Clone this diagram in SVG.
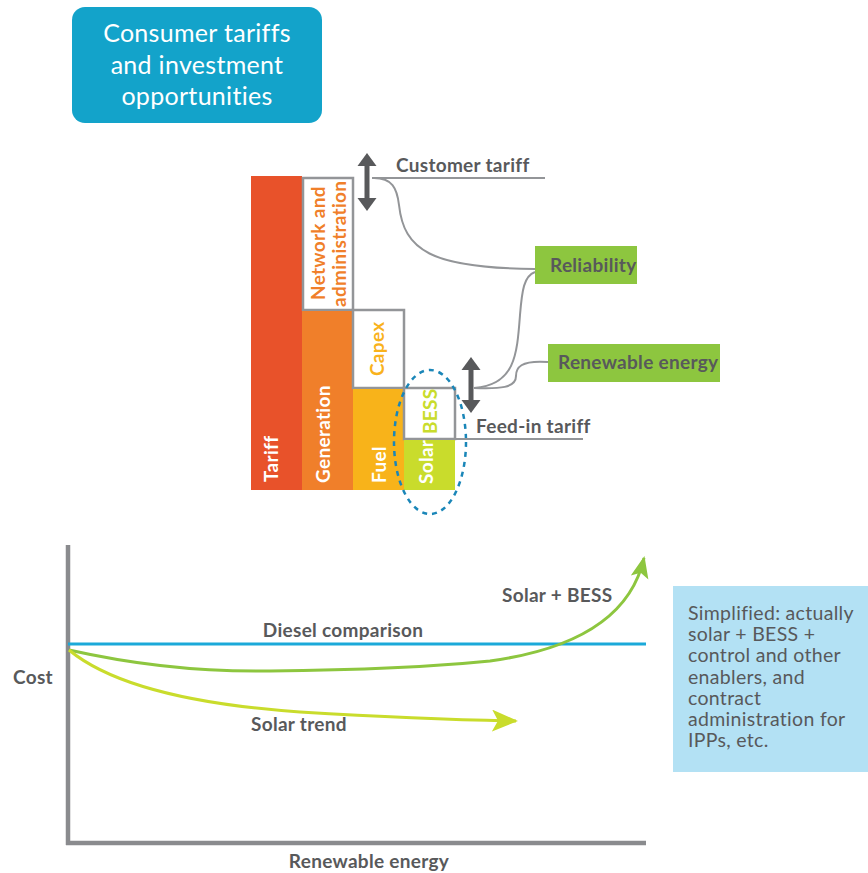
<svg xmlns="http://www.w3.org/2000/svg" width="868" height="873" viewBox="0 0 868 873">
  <style>
    text { font-family: "Lato", "Open Sans", "Liberation Sans", sans-serif; letter-spacing: 0.3px; }
    .lbl { font-size: 19px; font-weight: bold; fill: #58595b; }
    .bar { font-size: 19px; font-weight: bold; }
    .note { font-size: 19.5px; fill: #58595b; }
    .box { fill: #ffffff; stroke: #939598; stroke-width: 2.5; }
    .conn { fill: none; stroke: #939598; stroke-width: 2; }
    .dbl { fill: #58595b; }
  </style>
  <defs>
    <marker id="headGreen" markerUnits="userSpaceOnUse" markerWidth="22" markerHeight="20" viewBox="0 0 22 20" refX="20" refY="10" orient="auto">
      <path d="M0,1 L22,10 L0,19 L5,10 Z" fill="#8dc63f"/>
    </marker>
    <marker id="headLime" markerUnits="userSpaceOnUse" markerWidth="26" markerHeight="22" viewBox="0 0 26 22" refX="24" refY="11" orient="auto">
      <path d="M0,0 L26,11 L0,22 L6,11 Z" fill="#c9dc2c"/>
    </marker>
  </defs>

  <!-- title -->
  <g id="title">
    <rect x="72" y="7" width="250" height="116" rx="13" fill="#13a3ca"/>
    <text x="197" y="42" text-anchor="middle" font-size="25" fill="#ffffff">Consumer tariffs</text>
    <text x="197" y="74" text-anchor="middle" font-size="25" fill="#ffffff">and investment</text>
    <text x="197" y="105" text-anchor="middle" font-size="25" fill="#ffffff">opportunities</text>
  </g>

  <!-- tariff stack -->
  <g id="tariff">
    <rect x="251" y="176" width="51" height="314" fill="#e8522a"/>
    <text class="bar" fill="#ffffff" transform="translate(278,482) rotate(-90)">Tariff</text>
  </g>
  <g id="network">
    <rect class="box" x="303" y="178" width="50" height="132"/>
    <text class="bar" fill="#f07f2a" transform="translate(325,300) rotate(-90)">Network and</text>
    <text class="bar" fill="#f07f2a" transform="translate(346,307) rotate(-90)">administration</text>
  </g>
  <g id="generation">
    <rect x="302" y="311" width="51" height="179" fill="#f07f2a"/>
    <text class="bar" fill="#ffffff" transform="translate(330,483) rotate(-90)">Generation</text>
  </g>
  <g id="capex">
    <rect class="box" x="353" y="310" width="51" height="78"/>
    <text class="bar" fill="#f9b21c" transform="translate(384,376) rotate(-90)">Capex</text>
  </g>
  <g id="fuel">
    <rect x="353" y="389" width="51" height="101" fill="#f8b31a"/>
    <text class="bar" fill="#ffffff" transform="translate(386,483) rotate(-90)">Fuel</text>
  </g>
  <g id="bess">
    <rect class="box" x="404" y="388" width="51" height="51"/>
    <text class="bar" fill="#c9dc2c" transform="translate(437,434) rotate(-90)">BESS</text>
  </g>
  <g id="solar">
    <rect x="404" y="440" width="51" height="50" fill="#c9dc2c"/>
    <text class="bar" fill="#ffffff" transform="translate(433,484) rotate(-90)">Solar</text>
  </g>
  <g id="solar-bess-ring">
    <ellipse cx="430" cy="442" rx="36" ry="72" fill="none" stroke="#1a86b8" stroke-width="2.5" stroke-dasharray="5,5"/>
  </g>

  <!-- tariff levels -->
  <g id="customer-tariff">
    <line x1="372" y1="178" x2="545" y2="178" stroke="#939598" stroke-width="2"/>
    <text class="lbl" x="396" y="172">Customer tariff</text>
  </g>
  <g id="feed-in-tariff">
    <line x1="455" y1="439" x2="583" y2="439" stroke="#939598" stroke-width="2"/>
    <text class="lbl" x="476" y="433">Feed-in tariff</text>
  </g>

  <g id="reliability">
    <rect x="535" y="246" width="102" height="38" fill="#8dc63f"/>
    <text class="lbl" x="550" y="272">Reliability</text>
  </g>
  <g id="renewable-energy">
    <rect x="548" y="344" width="172" height="38" fill="#8dc63f"/>
    <text class="lbl" x="558" y="369">Renewable energy</text>
  </g>

  <!-- connectors -->
  <g id="connectors">
    <path class="conn" d="M374,178 C392,178 397,188 399,205 C404,250 430,268 535,269"/>
    <path class="conn" d="M535,272 C524,276 522,290 520,315 C517,355 515,385 474,388"/>
    <path class="conn" d="M548,362 C520,360 516,368 516,376 C516,388 500,389 474,388"/>
    <!-- double-headed arrows -->
    <g class="dbl">
      <rect x="364.5" y="163" width="5" height="38"/>
      <path d="M367,153 L376.5,166 L357.5,166 Z"/>
      <path d="M367,211 L376.5,198 L357.5,198 Z"/>
      <rect x="468.5" y="367" width="5" height="36"/>
      <path d="M471,357 L480.5,370 L461.5,370 Z"/>
      <path d="M471,413 L480.5,400 L461.5,400 Z"/>
    </g>
  </g>

  <!-- cost chart -->
  <g id="chart">
    <line x1="68" y1="545" x2="68" y2="845" stroke="#8a8b8e" stroke-width="4.5"/>
    <line x1="66" y1="843" x2="646" y2="843" stroke="#8a8b8e" stroke-width="4.5"/>
    <text class="lbl" x="13" y="684">Cost</text>
    <text class="lbl" x="369" y="868" text-anchor="middle">Renewable energy</text>
  </g>
  <g id="diesel">
    <line x1="68" y1="644" x2="646" y2="644" stroke="#1ba9d9" stroke-width="3"/>
    <text class="lbl" x="343" y="637" text-anchor="middle">Diesel comparison</text>
  </g>
  <g id="solar-bess-curve">
    <path d="M69,650 C140,666 210,672 270,671 C360,670 430,667 490,661 C570,650 630,620 644,558" fill="none" stroke="#8dc63f" stroke-width="3" marker-end="url(#headGreen)"/>
    <text class="lbl" x="502" y="602">Solar + BESS</text>
  </g>
  <g id="solar-trend">
    <path d="M69,650 C115,688 200,705 300,712 C400,718 460,720 516,721" fill="none" stroke="#c9dc2c" stroke-width="3" marker-end="url(#headLime)"/>
    <text class="lbl" x="251" y="731">Solar trend</text>
  </g>

  <g id="note">
    <rect x="673" y="586" width="195" height="186" fill="#b3e1f4"/>
    <text class="note" x="688" y="620">Simplified: actually</text>
    <text class="note" x="688" y="641">solar + BESS +</text>
    <text class="note" x="688" y="662">control and other</text>
    <text class="note" x="688" y="684">enablers, and</text>
    <text class="note" x="688" y="705">contract</text>
    <text class="note" x="688" y="726">administration for</text>
    <text class="note" x="688" y="747">IPPs, etc.</text>
  </g>
</svg>
